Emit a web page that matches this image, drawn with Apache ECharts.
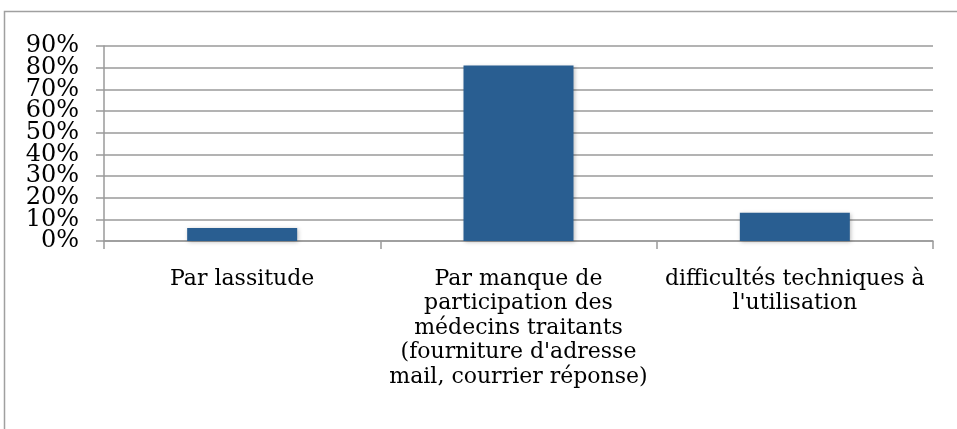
<!DOCTYPE html>
<html>
<head>
<meta charset="utf-8">
<script src="https://cdn.jsdelivr.net/npm/echarts@6/dist/echarts.min.js"></script>
<style>
html,body{margin:0;padding:0;background:#fff;}
#chart{width:957px;height:429px;}
</style>
</head>
<body>
<div id="chart"></div>
<script>
const categories = [
  "Par lassitude",
  "Par manque de\nparticipation des\nmédecins traitants\n(fourniture d'adresse\nmail, courrier réponse)",
  "difficultés techniques à\nl'utilisation"
];
const values = [6, 81, 13];
const yTicks = [0, 10, 20, 30, 40, 50, 60, 70, 80, 90];
const yMax = 90;
const yStep = 10;

// split ticks in two alternating sets so that the tightly packed labels are all drawn
const ticksA = yTicks.filter((v, i) => i % 2 === 0);
const ticksB = yTicks.filter((v, i) => i % 2 === 1);

const labelStyle = {
  margin: 25,
  color: '#000',
  fontFamily: 'DejaVu Serif',
  fontSize: 24,
  hideOverlap: false,
  formatter: v => v + '%'
};

const chart = echarts.init(document.getElementById('chart'), null, {renderer: 'canvas'});
chart.setOption({
  animation: false,
  backgroundColor: '#ffffff',
  graphic: [{
    type: 'rect',
    shape: {x: 4.5, y: 11.5, width: 1000, height: 500},
    style: {fill: 'none', stroke: '#a0a0a0', lineWidth: 1.5},
    silent: true
  }],
  grid: {left: 104, right: 24, top: 46, bottom: 188, containLabel: false},
  xAxis: {
    type: 'category',
    data: categories,
    axisLine: {lineStyle: {color: '#9a9a9a', width: 1.5}},
    axisTick: {show: true, length: 8, alignWithLabel: false, lineStyle: {color: '#9a9a9a', width: 1.5}},
    axisLabel: {
      interval: 0,
      margin: 26,
      color: '#000',
      fontFamily: 'DejaVu Serif',
      fontSize: 22,
      lineHeight: 24.5,
      align: 'center',
      hideOverlap: false
    }
  },
  yAxis: [{
    type: 'value',
    position: 'left',
    min: 0,
    max: yMax,
    interval: yStep,
    axisLine: {show: true, lineStyle: {color: '#9a9a9a', width: 1.5}},
    axisTick: {show: true, length: 8, lineStyle: {color: '#9a9a9a', width: 1.5}},
    splitLine: {show: true, lineStyle: {color: '#9a9a9a', width: 1.5}},
    axisLabel: Object.assign({customValues: ticksA, showMinLabel: true, showMaxLabel: true}, labelStyle)
  }, {
    type: 'value',
    position: 'left',
    offset: 0,
    min: 0,
    max: yMax,
    interval: yStep,
    axisLine: {show: false},
    axisTick: {show: false},
    splitLine: {show: false},
    axisLabel: Object.assign({customValues: ticksB, showMinLabel: true, showMaxLabel: true}, labelStyle)
  }],
  series: [{
    type: 'bar',
    data: values,
    barWidth: 110,
    yAxisIndex: 0,
    itemStyle: {
      color: '#295e91',
      shadowColor: 'rgba(0,0,0,0.25)',
      shadowBlur: 4,
      shadowOffsetX: 1,
      shadowOffsetY: 1
    }
  }]
});
</script>
</body>
</html>
